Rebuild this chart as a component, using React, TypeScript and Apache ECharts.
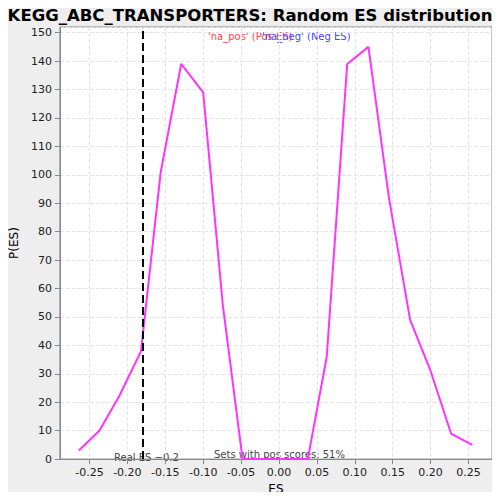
import React, { useEffect, useRef } from "react";
import * as echarts from "echarts";

const esValues = [-0.264, -0.237, -0.211, -0.182, -0.156, -0.129, -0.1, -0.074, -0.048, 0.038, 0.063, 0.09, 0.118, 0.145, 0.173, 0.2, 0.227, 0.255];
const pValues = [3, 10, 22, 38, 101, 139, 129, 54, 0, 0, 36, 139, 145, 92, 49, 31, 9, 5];
const realES = -0.181;

export default function App() {
  const ref = useRef<HTMLDivElement>(null);
  useEffect(() => {
    const chart = echarts.init(ref.current!, null, { renderer: "svg" });
    const font = "DejaVu Sans";
    chart.setOption({
      animation: false,
      backgroundColor: "#eeeeee",
      title: {
        text: "KEGG_ABC_TRANSPORTERS: Random ES distribution",
        left: "center", top: 2,
        textStyle: { fontSize: 16.5, fontWeight: "bold", fontFamily: font, color: "#000" },
      },
      grid: { left: 55, right: 8, top: 27, bottom: 40, backgroundColor: "#fff", show: true, borderColor: "#888" },
      xAxis: {
        type: "value", min: -0.289, max: 0.281, interval: 0.05,
        name: "ES", nameLocation: "middle", nameGap: 22,
        nameTextStyle: { fontFamily: font, fontSize: 12, color: "#000" },
        axisLabel: {
          fontFamily: font, fontSize: 11, color: "#222",
          customValues: [-0.25, -0.2, -0.15, -0.1, -0.05, 0, 0.05, 0.1, 0.15, 0.2, 0.25],
          formatter: (v: number) => v.toFixed(2),
        },
        axisTick: { customValues: [-0.25, -0.2, -0.15, -0.1, -0.05, 0, 0.05, 0.1, 0.15, 0.2, 0.25] },
        splitLine: { show: true, lineStyle: { type: "dashed", color: "#e4e4e4" } },
        axisLine: { onZero: false, lineStyle: { color: "#888" } },
      },
      yAxis: {
        type: "value", min: 0, max: 152, interval: 10,
        name: "P(ES)", nameLocation: "middle", nameGap: 33,
        nameTextStyle: { fontFamily: font, fontSize: 12, color: "#000" },
        axisLabel: { fontFamily: font, fontSize: 11, color: "#222", showMaxLabel: false },
        splitLine: { show: true, lineStyle: { type: "dashed", color: "#e4e4e4" } },
        axisLine: { show: true, onZero: false, lineStyle: { color: "#888" } },
      },
      graphic: [
        { type: "text", left: 208, top: 31, style: { text: "'na_pos' (Pos ES)", fill: "#ff4444", font: "10px " + font } },
        { type: "text", left: 262, top: 31, style: { text: "'na_neg' (Neg ES)", fill: "#4444ff", font: "10px " + font } },
        { type: "text", left: 114, top: 452, style: { text: "Real ES \u22120.2", fill: "#444", font: "10px " + font } },
        { type: "text", left: 214, top: 449, style: { text: "Sets with pos scores: 51%", fill: "#444", font: "10px " + font } },
      ],
      series: [{
        type: "line",
        data: esValues.map((x, i) => [x, pValues[i]]),
        symbol: "none",
        lineStyle: { color: "#ff33ff", width: 2 },
        markLine: {
          silent: true, symbol: "none", label: { show: false },
          lineStyle: { color: "#000", type: "dashed", width: 2 },
          data: [{ xAxis: realES }],
        },
      }],
    });
    return () => chart.dispose();
  }, []);
  return <div ref={ref} style={{ width: 500, height: 500, margin: -8 }} />;
}
